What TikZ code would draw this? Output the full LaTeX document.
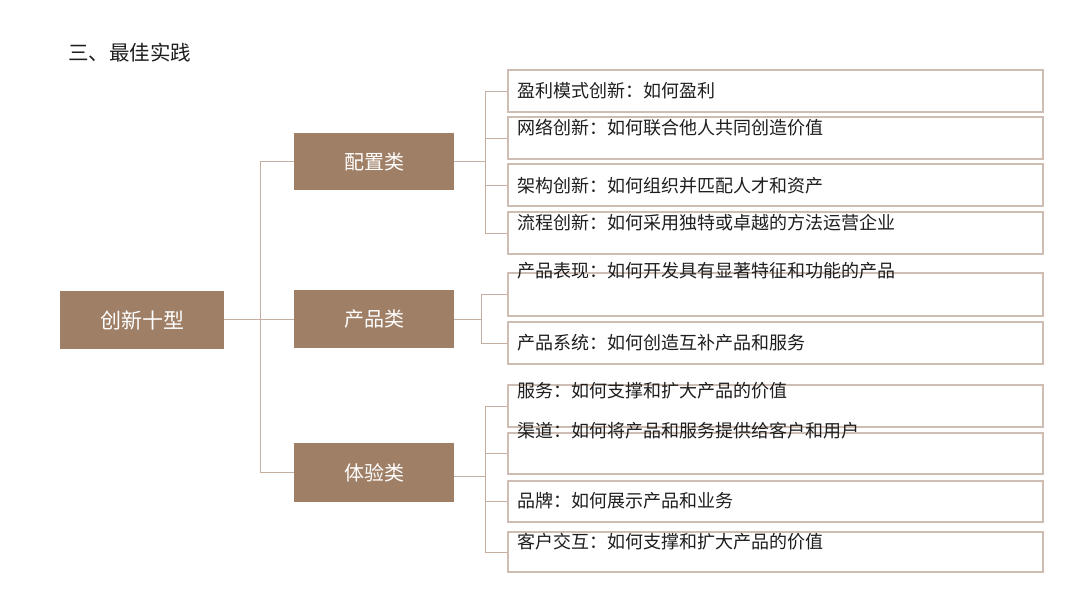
\documentclass[tikz,border=0pt]{standalone}
\usepackage{fontspec}
\setmainfont{Noto Sans CJK SC}
\definecolor{boxbrown}{HTML}{9F7F66}
\definecolor{leafline}{HTML}{CDBDB2}
\definecolor{conn}{HTML}{C4AE9F}
\definecolor{txt}{HTML}{1E1E1E}
\begin{document}
\begin{tikzpicture}[x=1pt,y=-1pt,
  mainbox/.style={draw=none,fill=boxbrown,text=white,minimum width=160pt,minimum height=58pt,inner sep=0pt,font=\fontsize{20}{24}\selectfont},
  leafbox/.style={draw=leafline,line width=1.1pt,fill=white,minimum width=535pt,minimum height=42pt,inner sep=0pt},
  leaftext/.style={anchor=west,inner sep=0pt,text=txt,font=\fontsize{18}{22}\selectfont},
  link/.style={draw=conn,line width=0.9pt}]
\useasboundingbox (0,0) rectangle (1080,608);
\fill[white] (0,0) rectangle (1080,608);

\node[anchor=west,inner sep=0pt,text=txt,font=\fontsize{20.5}{24}\selectfont] (title) at (68,53) {三、最佳实践};

% root and categories
\node[mainbox,minimum width=164pt,font=\fontsize{21}{25}\selectfont] (root) at (142,320) {创新十型};
\node[mainbox,minimum height=57pt] (cat1) at (374,161.5) {配置类};
\node[mainbox] (cat2) at (374,319) {产品类};
\node[mainbox,minimum height=59pt] (cat3) at (374,472.5) {体验类};

% leaf boxes
\node[leafbox] (l1) at (775.5,91) {};
\node[leafbox] (l2) at (775.5,138) {};
\node[leafbox] (l3) at (775.5,185) {};
\node[leafbox] (l4) at (775.5,233) {};
\node[leafbox,minimum height=43pt] (l5) at (775.5,294.5) {};
\node[leafbox] (l6) at (775.5,343) {};
\node[leafbox] (l7) at (775.5,406) {};
\node[leafbox,minimum height=41pt] (l8) at (775.5,453.5) {};
\node[leafbox,minimum height=41pt] (l9) at (775.5,501.5) {};
\node[leafbox,minimum height=40pt] (l10) at (775.5,552) {};

% leaf texts
\node[leaftext] (t1) at (517,91) {盈利模式创新：如何盈利};
\node[leaftext] (t2) at (517,128) {网络创新：如何联合他人共同创造价值};
\node[leaftext] (t3) at (517,186) {架构创新：如何组织并匹配人才和资产};
\node[leaftext] (t4) at (517,223) {流程创新：如何采用独特或卓越的方法运营企业};
\node[leaftext] (t5) at (517,271) {产品表现：如何开发具有显著特征和功能的产品};
\node[leaftext] (t6) at (517,343) {产品系统：如何创造互补产品和服务};
\node[leaftext] (t7) at (517,391) {服务：如何支撑和扩大产品的价值};
\node[leaftext] (t8) at (517,431) {渠道：如何将产品和服务提供给客户和用户};
\node[leaftext] (t9) at (517,501) {品牌：如何展示产品和业务};
\node[leaftext] (t10) at (517,542) {客户交互：如何支撑和扩大产品的价值};

% junctions
\coordinate (j0) at (260,319);
\coordinate (j1) at (485,161.5);
\coordinate (j2) at (481,319);
\coordinate (j3) at (485,476);

% root -> categories
\draw[link] (root.east |- j0) -- (j0);
\draw[link] (j0) |- (cat1.west);
\draw[link] (j0) -- (cat2.west);
\draw[link] (j0) |- (cat3.west);

% categories -> leaves
\draw[link] (cat1.east) -- (j1);
\draw[link] (j1) |- (l1.west);
\draw[link] (j1) |- (l2.west);
\draw[link] (j1) |- (l3.west);
\draw[link] (j1) |- (l4.west);

\draw[link] (cat2.east) -- (j2);
\draw[link] (j2) |- (l5.west);
\draw[link] (j2) |- (l6.west);

\draw[link] (cat3.east |- j3) -- (j3);
\draw[link] (j3) |- (l7.west);
\draw[link] (j3) |- (l8.west);
\draw[link] (j3) |- (l9.west);
\draw[link] (j3) |- (l10.west);
\end{tikzpicture}
\end{document}
